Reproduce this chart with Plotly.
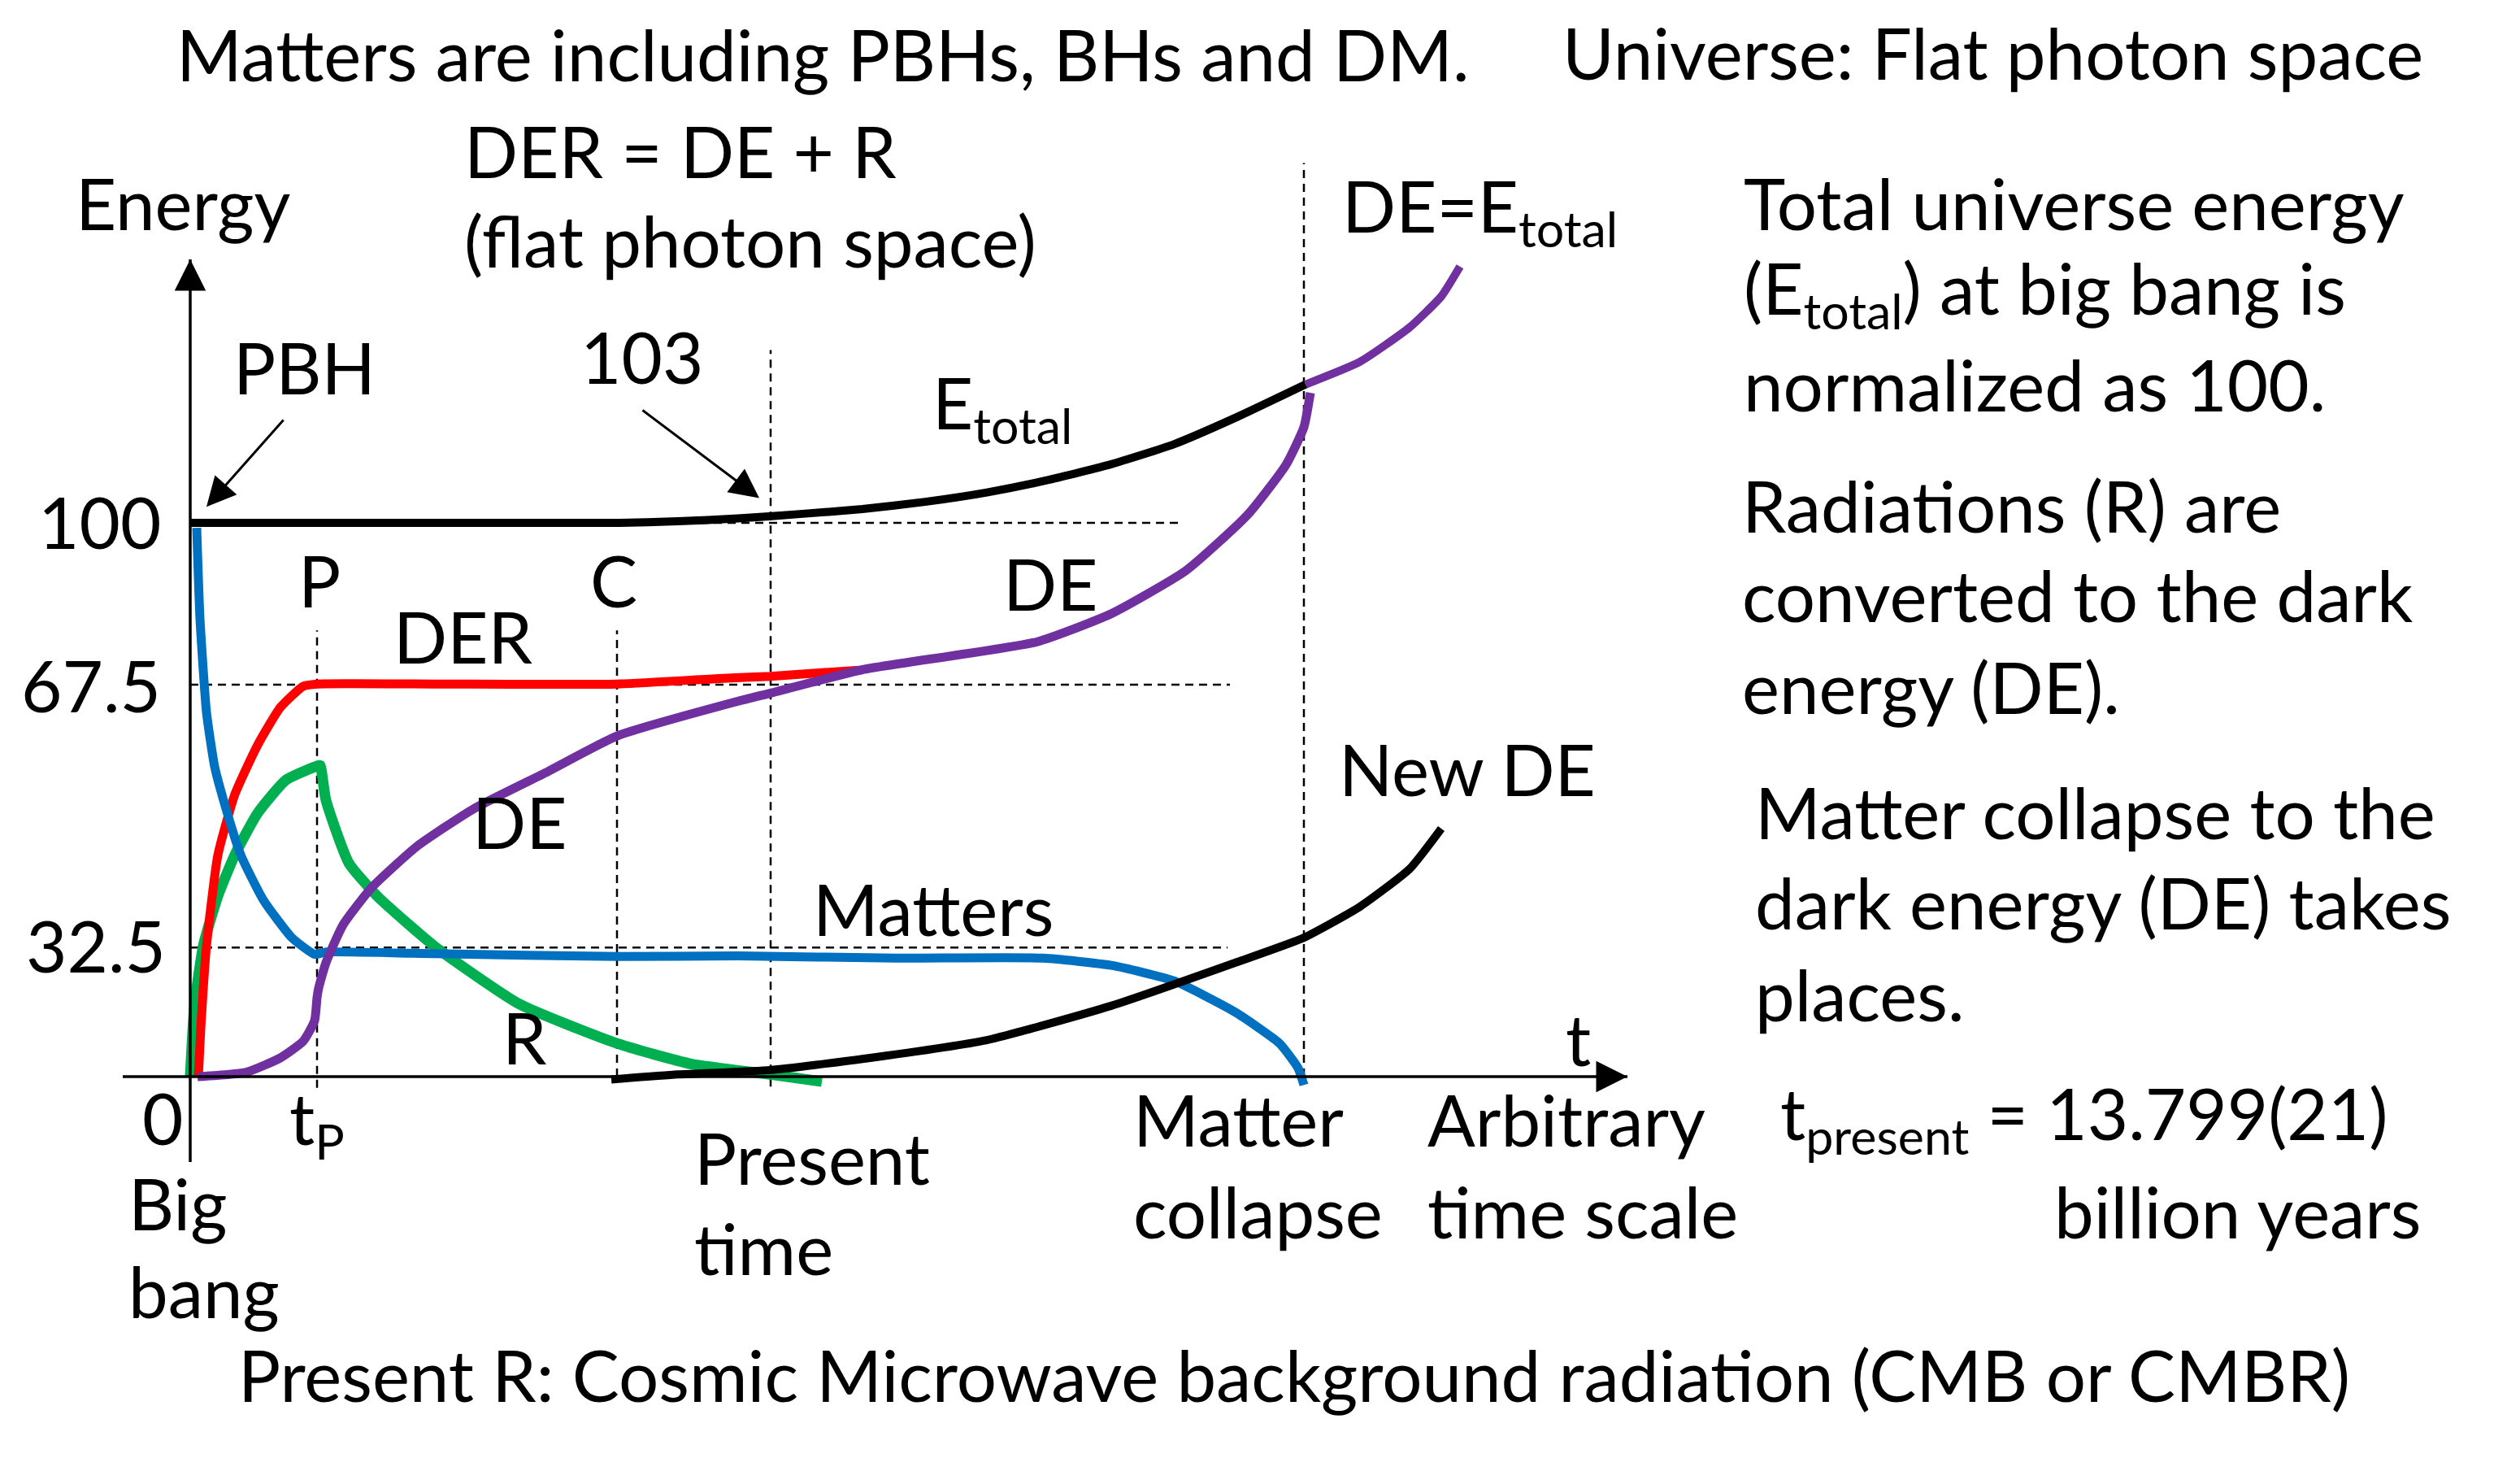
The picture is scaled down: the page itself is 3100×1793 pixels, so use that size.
import plotly.graph_objects as go

W, H = 3100, 1793

# %% data (time in arbitrary units, energy as drawn on the diagram)
etotal_t = [0, 2.0, 4.0, 5.25, 6.0, 6.74, 7.5, 8.27, 9.04, 9.8, 10.57, 11.33, 12.1, 12.86, 13.72]
etotal_E = [100, 100, 100, 100, 100.3, 100.8, 101.6, 102.5, 103.8, 105.5, 107.8, 110.6, 114.2, 119.0, 125.0]

de_top_t = [13.72, 14.39, 15.0, 15.39, 15.62]
de_top_E = [125.0, 129.1, 135.3, 140.9, 146.3]

de_t = [0.09, 0.69, 1.11, 1.39, 1.53, 1.56, 1.58, 1.67, 1.88, 2.23, 2.79, 3.49, 4.40, 5.25,
        6.74, 7.15, 8.27, 10.41, 11.33, 12.25, 13.01, 13.48, 13.7, 13.78]
de_E = [0, 0.8, 3.4, 6.4, 10.1, 14.3, 16.0, 20.6, 27.4, 34.1, 41.6, 48.4, 55.1, 61.5,
        67.8, 69.3, 73.5, 78.5, 83.6, 91.4, 101.5, 110.5, 117.3, 123.5]

der_t = [0.1, 0.13, 0.2, 0.34, 0.55, 0.83, 1.11, 1.39, 1.56, 3.0, 5.25, 6.5, 7.14, 8.23]
der_E = [0, 8.7, 23.6, 40.0, 51.0, 59.9, 66.7, 70.5, 70.9, 70.9, 70.9, 71.9, 72.3, 73.4]

r_t = [0, 0.05, 0.16, 0.34, 0.55, 0.83, 1.18, 1.58, 1.6, 1.67, 1.95, 2.3, 3.0, 4.05, 5.25, 6.16, 7.14, 7.77]
r_E = [0, 12.4, 23.6, 32.6, 40.1, 47.6, 53.6, 56.2, 56.2, 49.9, 38.6, 32.6, 23.6, 13.1, 6.0, 2.3, 0.4, -0.9]

m_t = [0.08, 0.12, 0.2, 0.3, 0.41, 0.62, 0.9, 1.25, 1.53, 1.67, 3.0, 5.25, 6.74, 8.68,
       10.49, 11.33, 12.1, 12.86, 13.4, 13.63, 13.7]
m_E = [99.1, 82.7, 65.8, 56.0, 49.9, 40.1, 31.9, 25.1, 22.1, 22.5, 22.2, 21.7, 21.8, 21.4,
       21.4, 20.1, 17.3, 11.6, 6.0, 1.5, -1.5]

nde_t = [5.18, 6.0, 7.14, 8.27, 9.8, 11.33, 12.86, 13.7, 14.39, 15.0, 15.39]
nde_E = [-0.5, 0.4, 1.2, 3.2, 6.6, 12.8, 20.6, 25.1, 30.7, 37.5, 44.8]

# guide lines
vline_t = [1.56, 5.25, 7.14, 13.7]          # tP, C, present, matter collapse
vline_top = [80.6, 80.6, 131.2, 165.0]
vline_bot = [-2.0, 0.0, -1.8, 0.0]
hline_E = [100, 70.8, 23.3]                 # levels drawn for 100, 67.5, 32.5
hline_t0 = [5.25, 0, 0]
hline_t1 = [12.17, 12.79, 12.76]

# axes extent
x_axis = [-0.83, 17.68]
y_axis = [-15.4, 147.6]

fig = go.Figure()

for t, b, top in zip(vline_t, vline_bot, vline_top):
    fig.add_trace(go.Scatter(x=[t, t], y=[b, top], mode="lines",
                             line=dict(color="black", width=2.5, dash="10px,7px")))
for e, a, b in zip(hline_E, hline_t0, hline_t1):
    fig.add_trace(go.Scatter(x=[a, b], y=[e, e], mode="lines",
                             line=dict(color="black", width=2.5, dash="10px,7px")))

curves = [
    (r_t, r_E, "#00B050", 13),
    (der_t, der_E, "#FF0000", 11),
    (m_t, m_E, "#0070C0", 11),
    (de_t, de_E, "#7030A0", 11),
    (de_top_t, de_top_E, "#7030A0", 10),
    (nde_t, nde_E, "black", 10),
    (etotal_t, etotal_E, "black", 10),
]
for xs, ys, col, w in curves:
    fig.add_trace(go.Scatter(x=xs, y=ys, mode="lines",
                             line=dict(color=col, width=w, shape="spline", smoothing=0.5)))

# axis lines
fig.add_trace(go.Scatter(x=x_axis, y=[0, 0], mode="lines", line=dict(color="black", width=3.5)))
fig.add_trace(go.Scatter(x=[0, 0], y=y_axis, mode="lines", line=dict(color="black", width=3.5)))

FONT = "Lato"
FS = 87


def txt(x, y, s, size=FS, anchor="left"):
    dx = {"left": -10, "right": -6, "center": 0}[anchor]
    fig.add_annotation(x=(x + dx) / W, y=1 - (y - 12) / H, xref="paper", yref="paper", text=s,
                       showarrow=False, xanchor=anchor, yanchor="middle",
                       font=dict(family=FONT, size=size, color="black"))


def arrow(x0, y0, x1, y1, w=3, size=1.6):
    fig.add_annotation(x=x1, y=y1, ax=x0, ay=y0, xref="x", yref="y", axref="x", ayref="y",
                       text="", showarrow=True, arrowhead=2, arrowsize=size,
                       arrowwidth=w, arrowcolor="black")


# axis arrowheads
arrow(x_axis[1] - 0.4, 0, x_axis[1], 0, w=3.5, size=2.2)
arrow(0, y_axis[1] - 5, 0, y_axis[1], w=3.5, size=2.2)
# pointer arrows
arrow(1.16, 118.8, 0.2, 102.9, w=3, size=2.4)
arrow(5.55, 120.5, 7.0, 104.5, w=3, size=2.4)

txt(217, 70, "Matters are including PBHs, BHs and DM.")
txt(1922, 68, "Universe: Flat photon space")
txt(571, 190, "DER = DE + R")
txt(571, 300, "(flat photon space)")
txt(93, 253, "Energy")
txt(287, 455, "PBH")
txt(714, 443, "103")
txt(1147, 505, "E<sub>total</sub>")
txt(1651, 263, "DE=E<sub>total</sub>")
txt(198, 646, "100", anchor="right")
txt(385, 718, "P", anchor="center")
txt(747, 718, "C", anchor="center")
txt(484, 787, "DER")
txt(1234, 722, "DE")
txt(198, 846, "67.5", anchor="right")
txt(581, 1014, "DE")
txt(1647, 949, "New DE")
txt(1000, 1121, "Matters")
txt(204, 1166, "32.5", anchor="right")
txt(637, 1279, "R", anchor="center")
txt(1933, 1281, "t", anchor="center")
txt(192, 1378, "0", anchor="center")
txt(356, 1384, "t<sub>P</sub>")
txt(158, 1483, "Big")
txt(158, 1591, "bang")
txt(854, 1427, "Present")
txt(854, 1538, "time")
txt(1394, 1380, "Matter")
txt(1394, 1493, "collapse")
txt(1756, 1380, "Arbitrary")
txt(1756, 1493, "time scale")
txt(2190, 1378, "t<sub>present</sub> = 13.799(21)")
txt(2527, 1493, "billion years")
txt(293, 1694, "Present R: Cosmic Microwave background radiation (CMB or CMBR)")
txt(2145, 253, "Total universe energy")
txt(2145, 364, "(E<sub>total</sub>) at big bang is")
txt(2145, 476, "normalized as 100.")
txt(2143, 625, "Radiations (R) are")
txt(2143, 735, "converted to the dark")
txt(2143, 848, "energy (DE).")
txt(2159, 1002, "Matter collapse to the")
txt(2159, 1113, "dark energy (DE) takes")
txt(2159, 1226, "places.")

fig.update_layout(
    width=W, height=H,
    margin=dict(l=0, r=0, t=0, b=0),
    paper_bgcolor="white", plot_bgcolor="white",
    showlegend=False,
    xaxis=dict(range=[-2.26, 28.74], visible=False, fixedrange=True),
    yaxis=dict(range=[-70.04, 193.25], visible=False, fixedrange=True),
)

fig.write_html("out.html")
